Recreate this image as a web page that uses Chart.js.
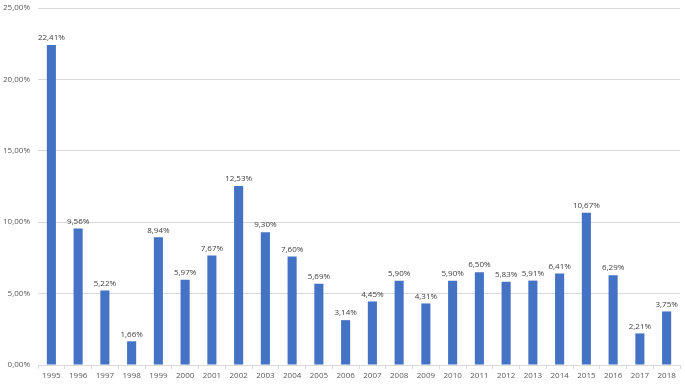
<!DOCTYPE html>
<html>
<head>
<meta charset="utf-8">
<script src="https://cdn.jsdelivr.net/npm/chart.js@4.4.0/dist/chart.umd.min.js"></script>
<style>
  html, body { margin: 0; padding: 0; background: #fff; }
  #wrap { width: 685px; height: 386px; }
</style>
</head>
<body>
<div id="wrap"><canvas id="myChart" width="685" height="386"></canvas></div>
<script>
var years = ['1995', '1996', '1997', '1998', '1999', '2000', '2001', '2002', '2003', '2004', '2005', '2006',
    '2007', '2008', '2009', '2010', '2011', '2012', '2013', '2014', '2015', '2016', '2017', '2018'];
var rates = [22.41, 9.56, 5.22, 1.66, 8.94, 5.97, 7.67, 12.53, 9.30, 7.60, 5.69, 3.14,
    4.45, 5.90, 4.31, 5.90, 6.50, 5.83, 5.91, 6.41, 10.67, 6.29, 2.21, 3.75];
var yTicks = [0, 5, 10, 15, 20, 25];

function fmt(v) {
    return v.toFixed(2).replace('.', ',') + '%';
}

// draw the value above each bar
var valueLabels = {
    id: 'valueLabels',
    afterDatasetsDraw: function (chart) {
        var ctx = chart.ctx;
        var meta = chart.getDatasetMeta(0);
        ctx.save();
        ctx.font = '8px "Open Sans", sans-serif';
        ctx.fillStyle = '#404040';
        ctx.textAlign = 'center';
        ctx.textBaseline = 'bottom';
        meta.data.forEach(function (bar, i) {
            ctx.fillText(fmt(rates[i]), bar.x, bar.y - 3);
        });
        ctx.restore();
    }
};

var ctx = document.getElementById('myChart').getContext('2d');
var myChart = new Chart(ctx, {
    type: 'bar',
    data: {
        labels: years,
        datasets: [{
            data: rates,
            backgroundColor: '#4472C4',
            borderWidth: 0,
            barPercentage: 0.34,
            categoryPercentage: 1
        }]
    },
    options: {
        responsive: false,
        animation: false,
        layout: { padding: { top: 8, right: 5, left: 0, bottom: 0 } },
        plugins: {
            legend: { display: false },
            tooltip: { enabled: false }
        },
        scales: {
            x: {
                grid: {
                    drawOnChartArea: false,
                    color: '#d9d9d9',
                    tickLength: 4
                },
                border: { color: '#d9d9d9' },
                ticks: {
                    color: '#595959',
                    font: { size: 8, family: '"Open Sans", sans-serif' },
                    maxRotation: 0,
                    autoSkip: false,
                    padding: 2
                },
                afterFit: function (scale) { scale.height = 21; }
            },
            y: {
                min: 0,
                max: 25,
                afterBuildTicks: function (scale) {
                    scale.ticks = yTicks.map(function (v) { return { value: v }; });
                },
                grid: { color: '#d9d9d9', drawTicks: false },
                border: { display: false },
                ticks: {
                    color: '#595959',
                    font: { size: 8, family: '"Open Sans", sans-serif' },
                    padding: 8,
                    callback: function (v) { return fmt(v); }
                },
                afterFit: function (scale) {
                    scale.width = 38;
                    scale.paddingTop = 0;
                }
            }
        }
    },
    plugins: [valueLabels]
});
</script>
</body>
</html>
